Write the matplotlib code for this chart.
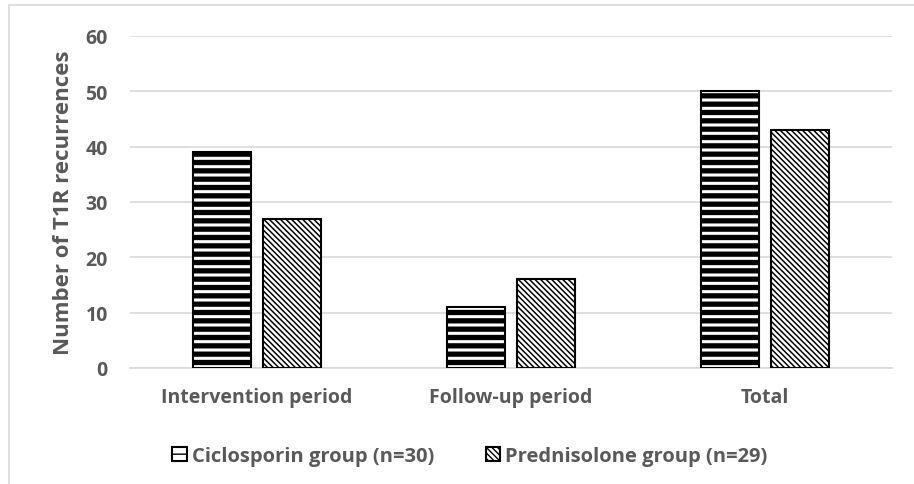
import matplotlib
matplotlib.use("Agg")
import matplotlib.pyplot as plt
import numpy as np
from matplotlib.patches import Rectangle

categories = ["Intervention period", "Follow-up period", "Total"]
ciclosporin = [39, 11, 50]
prednisolone = [27, 16, 43]
series_names = ["Ciclosporin group (n=30)", "Prednisolone group (n=29)"]
yticks = [0, 10, 20, 30, 40, 50, 60]

txt = "#595959"
plt.rcParams["font.family"] = ["Open Sans", "DejaVu Sans"]
plt.rcParams["font.weight"] = "bold"
plt.rcParams["axes.labelweight"] = "bold"

fig = plt.figure(figsize=(9.14, 4.85), dpi=100)
# outer chart border (runs off the right and bottom edges)
fig.patches.append(Rectangle((9 / 914, -0.1), 1.2, 1 - 6 / 485 + 0.1,
                             transform=fig.transFigure, fill=False,
                             edgecolor="#d9d9d9", lw=1.2))

ax = fig.add_axes([130 / 914, 116 / 485, 762 / 914, 332 / 485])
x = np.arange(len(categories))
w = 0.23
gap = 0.047

b1 = ax.bar(x - (w + gap) / 2, ciclosporin, w, facecolor="white",
            edgecolor="black", hatch="--", lw=1.5, label=series_names[0], zorder=3)
b2 = ax.bar(x + (w + gap) / 2, prednisolone, w, facecolor="white",
            edgecolor="black", hatch="\\" * 6, lw=1.5, label=series_names[1], zorder=3)
for p in b1:
    p.set_hatch_linewidth(3.8)
for p in b2:
    p.set_hatch_linewidth(1.1)

ax.set_xlim(-0.5, 2.5)
ax.set_ylim(0, 60)
ax.set_yticks(yticks)
ax.set_xticks(x)
ax.set_xticklabels(categories)
ax.grid(axis="y", color="#d9d9d9", lw=1.2, zorder=0)
for s in ["top", "right", "left"]:
    ax.spines[s].set_visible(False)
ax.spines["bottom"].set_color("#d9d9d9")
ax.spines["bottom"].set_linewidth(1.2)
ax.tick_params(axis="both", length=0, labelsize=14, labelcolor=txt)
ax.tick_params(axis="y", pad=16)
ax.tick_params(axis="x", pad=14)
ax.set_ylabel("Number of T1R recurrences", fontsize=16, color=txt, labelpad=8)

# legend sits a little left of the plot centre, as in the original
leg = fig.legend(handles=[b1, b2], labels=series_names, loc="center",
                 bbox_to_anchor=(470 / 914, 1 - 457 / 485), ncol=2,
                 frameon=False, fontsize=14.5, handlelength=0.7, handleheight=0.7,
                 handletextpad=0.25, columnspacing=2.6, labelcolor=txt)
for h in leg.legend_handles:
    h.set_linewidth(1.5)

fig.savefig("out.png", dpi=100)
